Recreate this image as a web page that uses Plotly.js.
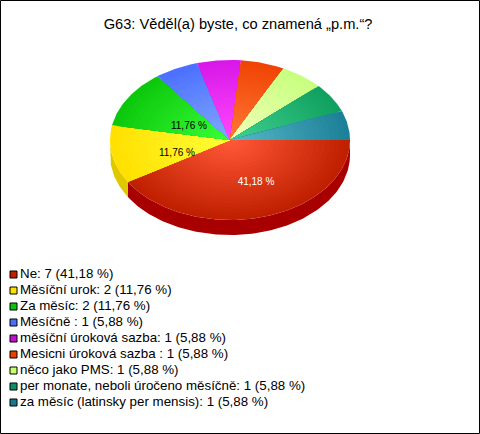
<!DOCTYPE html>
<html><head><meta charset="utf-8">
<script src="https://cdn.plot.ly/plotly-3.0.0.min.js"></script>
<style>html,body{margin:0;padding:0;background:#fff}#c{width:480px;height:434px}</style>
</head><body><div id="c"></div>
<script>
const titleText = 'G63: Věděl(a) byste, co znamená „p.m.“?';
const categories = ['Ne','Měsíční urok','Za měsíc','Měsíčně ','měsíční úroková sazba','Mesicni úroková sazba ','něco jako PMS','per monate, neboli úročeno měsíčně','za měsíc (latinsky per mensis)'];
const counts = [7,2,2,1,1,1,1,1,1];
const edgeColors = ['#c02000','#ffe000','#0cc80c','#4c70ff','#d818e8','#f04404','#c8ff80','#10a060','#1c8098'];
const innerColors = ['#ff5838','#ffff38','#38ff38','#80a8ff','#ff48ff','#ff7838','#f0ffb8','#40d090','#58b8c8'];
const sideColors = ['#a80000','#e0c800','#0aa80a','#3c58d0','#b010c0','#d03000','#a8d868','#088050','#106880'];
const legendSwatches = ['#c02000','#ffe000','#10c010','#4870f0','#c010d0','#e84000','#c8ff70','#109060','#187890'];
const labelledSlices = [0,1,2];
const labelColors = ['#ffffff','#000000','#000000'];

// The pie's own elliptical scale, in axis units
const cx=230, cy=140, rx=120, ry=80, depth=15, rings=24;
const total = counts.reduce((a,b)=>a+b,0);
const pct = v => (v/total*100).toFixed(2).replace('.',',')+' %';
function hex(c){return [1,3,5].map(i=>parseInt(c.substr(i,2),16));}
function mix(a,b,t){const A=hex(a),B=hex(b);return 'rgb('+A.map((v,i)=>Math.round(v+(B[i]-v)*t)).join(',')+')';}
const traces=[];
let acc=0;
const spans=counts.map(v=>{const s=acc/total*360;acc+=v;return [s,acc/total*360];});
function arc(a0,a1,k,dy){const xs=[],ys=[];const n=Math.max(2,Math.ceil((a1-a0)));
  for(let i=0;i<=n;i++){const t=(a0+(a1-a0)*i/n)*Math.PI/180;xs.push(cx+rx*k*Math.cos(t));ys.push(cy+dy+ry*k*Math.sin(t));}
  return [xs,ys];}
function poly(x,y,color){traces.push({type:'scatter',mode:'lines',x:x,y:y,fill:'toself',fillcolor:color,line:{width:0,color:color},hoverinfo:'skip',showlegend:false});}
// side wall
spans.forEach((s,i)=>{const a0=Math.max(0,s[0]),a1=Math.min(180,s[1]);if(a1<=a0)return;
  const [xa,ya]=arc(a0,a1,1,0),[xb,yb]=arc(a0,a1,1,depth);
  poly(xa.concat(xb.reverse()),ya.concat(yb.reverse()),sideColors[i]);});
// top face: concentric wedges from the rim inward
spans.forEach((s,i)=>{for(let r=0;r<rings;r++){const k=1-r/rings;
  const [xa,ya]=arc(s[0],s[1],k,0);
  poly([cx].concat(xa,[cx]),[cy].concat(ya,[cy]),mix(edgeColors[i],innerColors[i],r/(rings-1)));}});
// percentage labels sit on the slice, shifted from the mid angle
const labelRadius=[0.574,0.471,0.384], labelShift=[-6.3,-9.6,-4.7];
labelledSlices.forEach((i,j)=>{const m=((spans[i][0]+spans[i][1])/2+labelShift[j])*Math.PI/180;
  traces.push({type:'scatter',mode:'text',x:[cx+rx*labelRadius[j]*Math.cos(m)],y:[cy+ry*labelRadius[j]*Math.sin(m)],
   text:[pct(counts[i])],textposition:'middle center',textfont:{family:'Liberation Sans, Arial',size:10,color:labelColors[j]},hoverinfo:'skip',showlegend:false});});
// legend
const legendY0=274.5, legendStep=16, legendX=13.5, legendTextX=20;
const legendYs=categories.map((c,i)=>legendY0+i*legendStep);
traces.push({type:'scatter',mode:'markers',x:categories.map(()=>legendX),y:legendYs,
  marker:{symbol:'square',size:7,color:legendSwatches,line:{color:'#000',width:1}},hoverinfo:'skip',showlegend:false,cliponaxis:false});
traces.push({type:'scatter',mode:'text',x:categories.map(()=>legendTextX),y:legendYs,
  text:categories.map((c,i)=>c+': '+counts[i]+' ('+pct(counts[i])+')'),textposition:'middle right',
  textfont:{family:'Liberation Sans, Arial',size:13.33,color:'#000'},hoverinfo:'skip',showlegend:false,cliponaxis:false});
Plotly.newPlot('c',traces,{
  width:480,height:434,margin:{l:0,r:0,t:0,b:0},paper_bgcolor:'#fff',plot_bgcolor:'#fff',showlegend:false,
  title:{text:titleText,x:0.496,xanchor:'center',y:0.945,yanchor:'middle',font:{family:'Liberation Sans, Arial',size:14.67,color:'#000'}},
  xaxis:{range:[0,480],visible:false,fixedrange:true},
  yaxis:{range:[434,0],visible:false,fixedrange:true},
  shapes:[{type:'rect',xref:'x',yref:'y',x0:0.5,x1:479.5,y0:0.5,y1:433.5,line:{color:'#000',width:1}}]
},{staticPlot:true});
</script></body></html>
